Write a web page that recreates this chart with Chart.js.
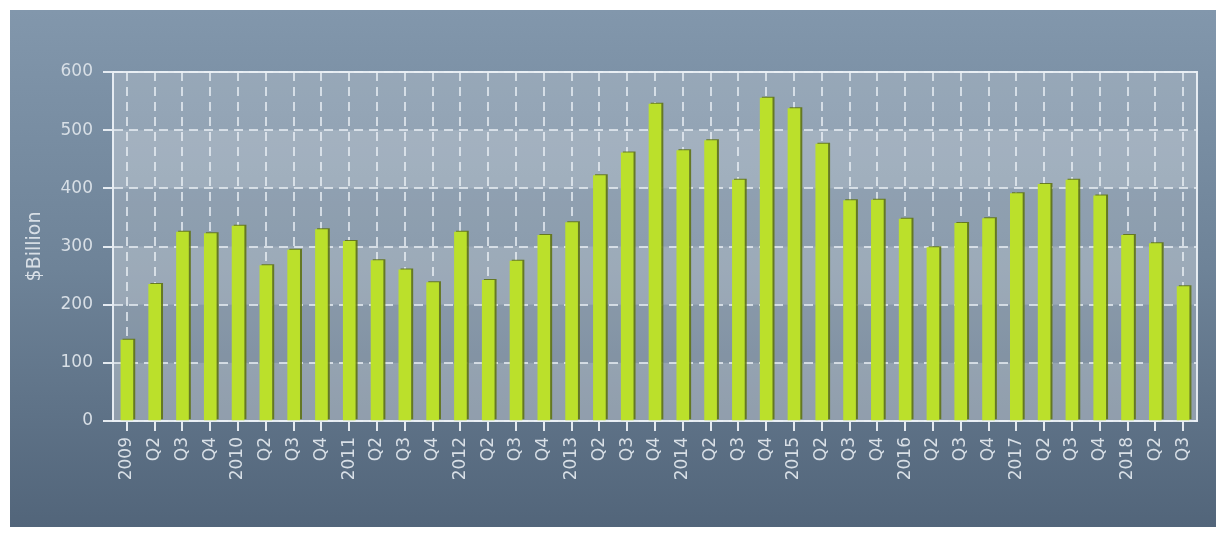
<!DOCTYPE html>
<html lang="en">
<head>
    <meta charset="UTF-8">
    <title>$Billion by quarter</title>
    <script src="https://cdn.jsdelivr.net/npm/chart.js"></script>
    <style>
        html, body { margin: 0; padding: 0; background: #fff; }
        #wrap {
            position: absolute;
            left: 10px; top: 10px;
            width: 1206px; height: 517px;
            background: linear-gradient(to bottom, #8297ac 0%, #6e8398 50%, #52657a 100%);
        }
    </style>
</head>
<body>
<div id="wrap"><canvas id="chart" width="1206" height="517"></canvas></div>
<script>
    // quarters 2009 Q1 .. 2018 Q3
    const labels = [
        "2009", "Q2", "Q3", "Q4",
        "2010", "Q2", "Q3", "Q4",
        "2011", "Q2", "Q3", "Q4",
        "2012", "Q2", "Q3", "Q4",
        "2013", "Q2", "Q3", "Q4",
        "2014", "Q2", "Q3", "Q4",
        "2015", "Q2", "Q3", "Q4",
        "2016", "Q2", "Q3", "Q4",
        "2017", "Q2", "Q3", "Q4",
        "2018", "Q2", "Q3"
    ];
    const values = [
        139, 235, 325, 322,
        335, 267, 294, 329,
        309, 276, 260, 238,
        325, 242, 275, 319,
        341, 422, 461, 545,
        465, 482, 414, 555,
        537, 476, 379, 380,
        347, 298, 340, 348,
        391, 407, 414, 387,
        319, 305, 231
    ];
    const yMin = 0, yMax = 600, yStep = 100;
    const lightBands = [[0, 100], [200, 300], [400, 500]];

    const lineColor = "rgba(235,240,245,0.95)";
    const gridColor = "rgba(235,240,245,0.75)";
    const textColor = "#d8dfe6";

    // plot backdrop + stripes
    const backdrop = {
        id: "backdrop",
        beforeDraw(chart) {
            const { ctx, chartArea: a, scales: { y } } = chart;
            ctx.save();
            ctx.fillStyle = "rgba(255,255,255,0.2)";
            ctx.fillRect(a.left, a.top, a.right - a.left, a.bottom - a.top);
            ctx.fillStyle = "rgba(255,255,255,0.15)";
            lightBands.forEach(([lo, hi]) => {
                const t = y.getPixelForValue(hi), b = y.getPixelForValue(lo);
                ctx.fillRect(a.left, t, a.right - a.left, b - t);
            });
            ctx.restore();
        },
        afterDraw(chart) {
            const { ctx, chartArea: a } = chart;
            ctx.save();
            ctx.strokeStyle = lineColor;
            ctx.lineWidth = 2;
            ctx.setLineDash([]);
            ctx.beginPath();
            ctx.moveTo(a.left, a.top);
            ctx.lineTo(a.right, a.top);
            ctx.lineTo(a.right, a.bottom);
            ctx.stroke();
            ctx.restore();
        }
    };

    // little 3d edge on the right of each bar
    const barShade = {
        id: "barShade",
        beforeDatasetDraw(chart) {
            const ctx = chart.ctx;
            ctx.save();
            ctx.shadowColor = "rgba(95,115,20,0.9)";
            ctx.shadowOffsetX = 2;
            ctx.shadowOffsetY = -1;
            ctx.shadowBlur = 0;
        },
        afterDatasetDraw(chart) {
            chart.ctx.restore();
        }
    };

    new Chart(document.getElementById("chart"), {
        type: "bar",
        data: {
            labels: labels,
            datasets: [{
                data: values,
                backgroundColor: "#bbe02b",
                barThickness: 12
            }]
        },
        options: {
            responsive: false,
            animation: false,
            layout: { padding: { top: 62, right: 19, bottom: 0, left: 0 } },
            plugins: { legend: { display: false }, tooltip: { enabled: false } },
            scales: {
                x: {
                    offset: true,
                    grid: {
                        offset: false,
                        color: gridColor,
                        lineWidth: 2,
                        tickLength: 10,
                        tickColor: lineColor,
                        tickBorderDash: [],
                        drawOnChartArea: true
                    },
                    border: { color: lineColor, width: 2, dash: [9, 6] },
                    ticks: {
                        color: textColor,
                        font: { family: "DejaVu Sans", size: 17 },
                        minRotation: 90,
                        maxRotation: 90,
                        autoSkip: false,
                        padding: 6
                    },
                    afterFit(scale) { scale.height = 106; }
                },
                y: {
                    min: yMin,
                    max: yMax,
                    ticks: {
                        stepSize: yStep,
                        color: textColor,
                        font: { family: "DejaVu Sans", size: 17 },
                        padding: 10
                    },
                    grid: {
                        color: gridColor,
                        lineWidth: 2,
                        tickLength: 10,
                        tickColor: lineColor,
                        tickBorderDash: []
                    },
                    border: { color: lineColor, width: 2, dash: [9, 6] },
                    title: {
                        display: true,
                        text: "$Billion",
                        color: textColor,
                        font: { family: "DejaVu Sans", size: 19 },
                        padding: { top: 14, bottom: 0 }
                    },
                    afterFit(scale) { scale.width = 103; }
                }
            }
        },
        plugins: [backdrop, barShade]
    });
</script>
</body>
</html>
